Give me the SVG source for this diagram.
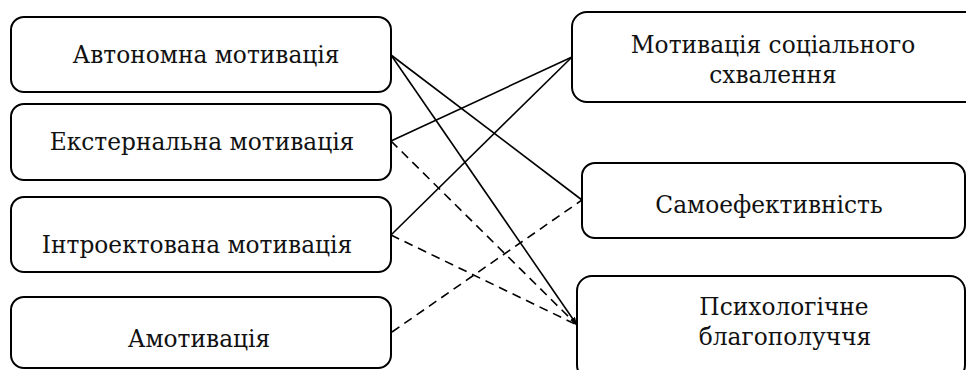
<svg xmlns="http://www.w3.org/2000/svg" width="966" height="370" viewBox="0 0 966 370">
<style>
.box{fill:#fff;stroke:#000;stroke-width:2}
.t{font-family:"DejaVu Serif","Liberation Serif",serif;font-size:23.3px;fill:#111;text-anchor:middle}
.c{stroke:#000;stroke-width:1.6;fill:none}
.d{stroke-dasharray:9,6}
</style>
<defs>
<marker id="ah" viewBox="0 0 8 6" refX="8" refY="3" markerWidth="8" markerHeight="6" markerUnits="userSpaceOnUse" orient="auto">
<path d="M0,0 L8,3 L0,6 Z" fill="#000"/>
</marker>
</defs>
<rect width="966" height="370" fill="#fff"/>
<g id="n-autonomous"><rect class="box" x="11" y="17" width="380" height="75" rx="13"/><text class="t" x="206" y="63">Автономна мотивація</text></g>
<g id="n-external"><rect class="box" x="11" y="104" width="380" height="76" rx="13"/><text class="t" x="202" y="150">Екстернальна мотивація</text></g>
<g id="n-introjected"><rect class="box" x="11" y="197" width="380" height="75" rx="13"/><text class="t" x="197" y="253">Інтроектована мотивація</text></g>
<g id="n-amotivation"><rect class="box" x="11" y="297" width="380" height="71" rx="13"/><text class="t" x="199" y="347">Амотивація</text></g>
<g id="n-social"><rect class="box" x="572" y="12" width="410" height="90" rx="15"/><text class="t" x="773" y="53">Мотивація соціального</text><text class="t" x="773" y="83">схвалення</text></g>
<g id="n-selfeff"><rect class="box" x="582" y="163" width="383" height="75" rx="13"/><text class="t" x="769" y="213">Самоефективність</text></g>
<g id="n-wellbeing"><rect class="box" x="577" y="276" width="388" height="104" rx="15"/><text class="t" x="784" y="315">Психологічне</text><text class="t" x="785" y="345">благополуччя</text></g>
<g id="connectors">
<line class="c" x1="391" y1="55" x2="582" y2="200"/>
<line class="c" x1="391" y1="55" x2="577" y2="325" marker-end="url(#ah)"/>
<line class="c" x1="391" y1="141" x2="572" y2="57"/>
<line class="c" x1="391" y1="235" x2="572" y2="57"/>
<line class="c d" x1="391" y1="141" x2="577" y2="325"/>
<line class="c d" x1="391" y1="235" x2="577" y2="325"/>
<line class="c d" x1="392" y1="332" x2="582" y2="200"/>
</g>
</svg>
